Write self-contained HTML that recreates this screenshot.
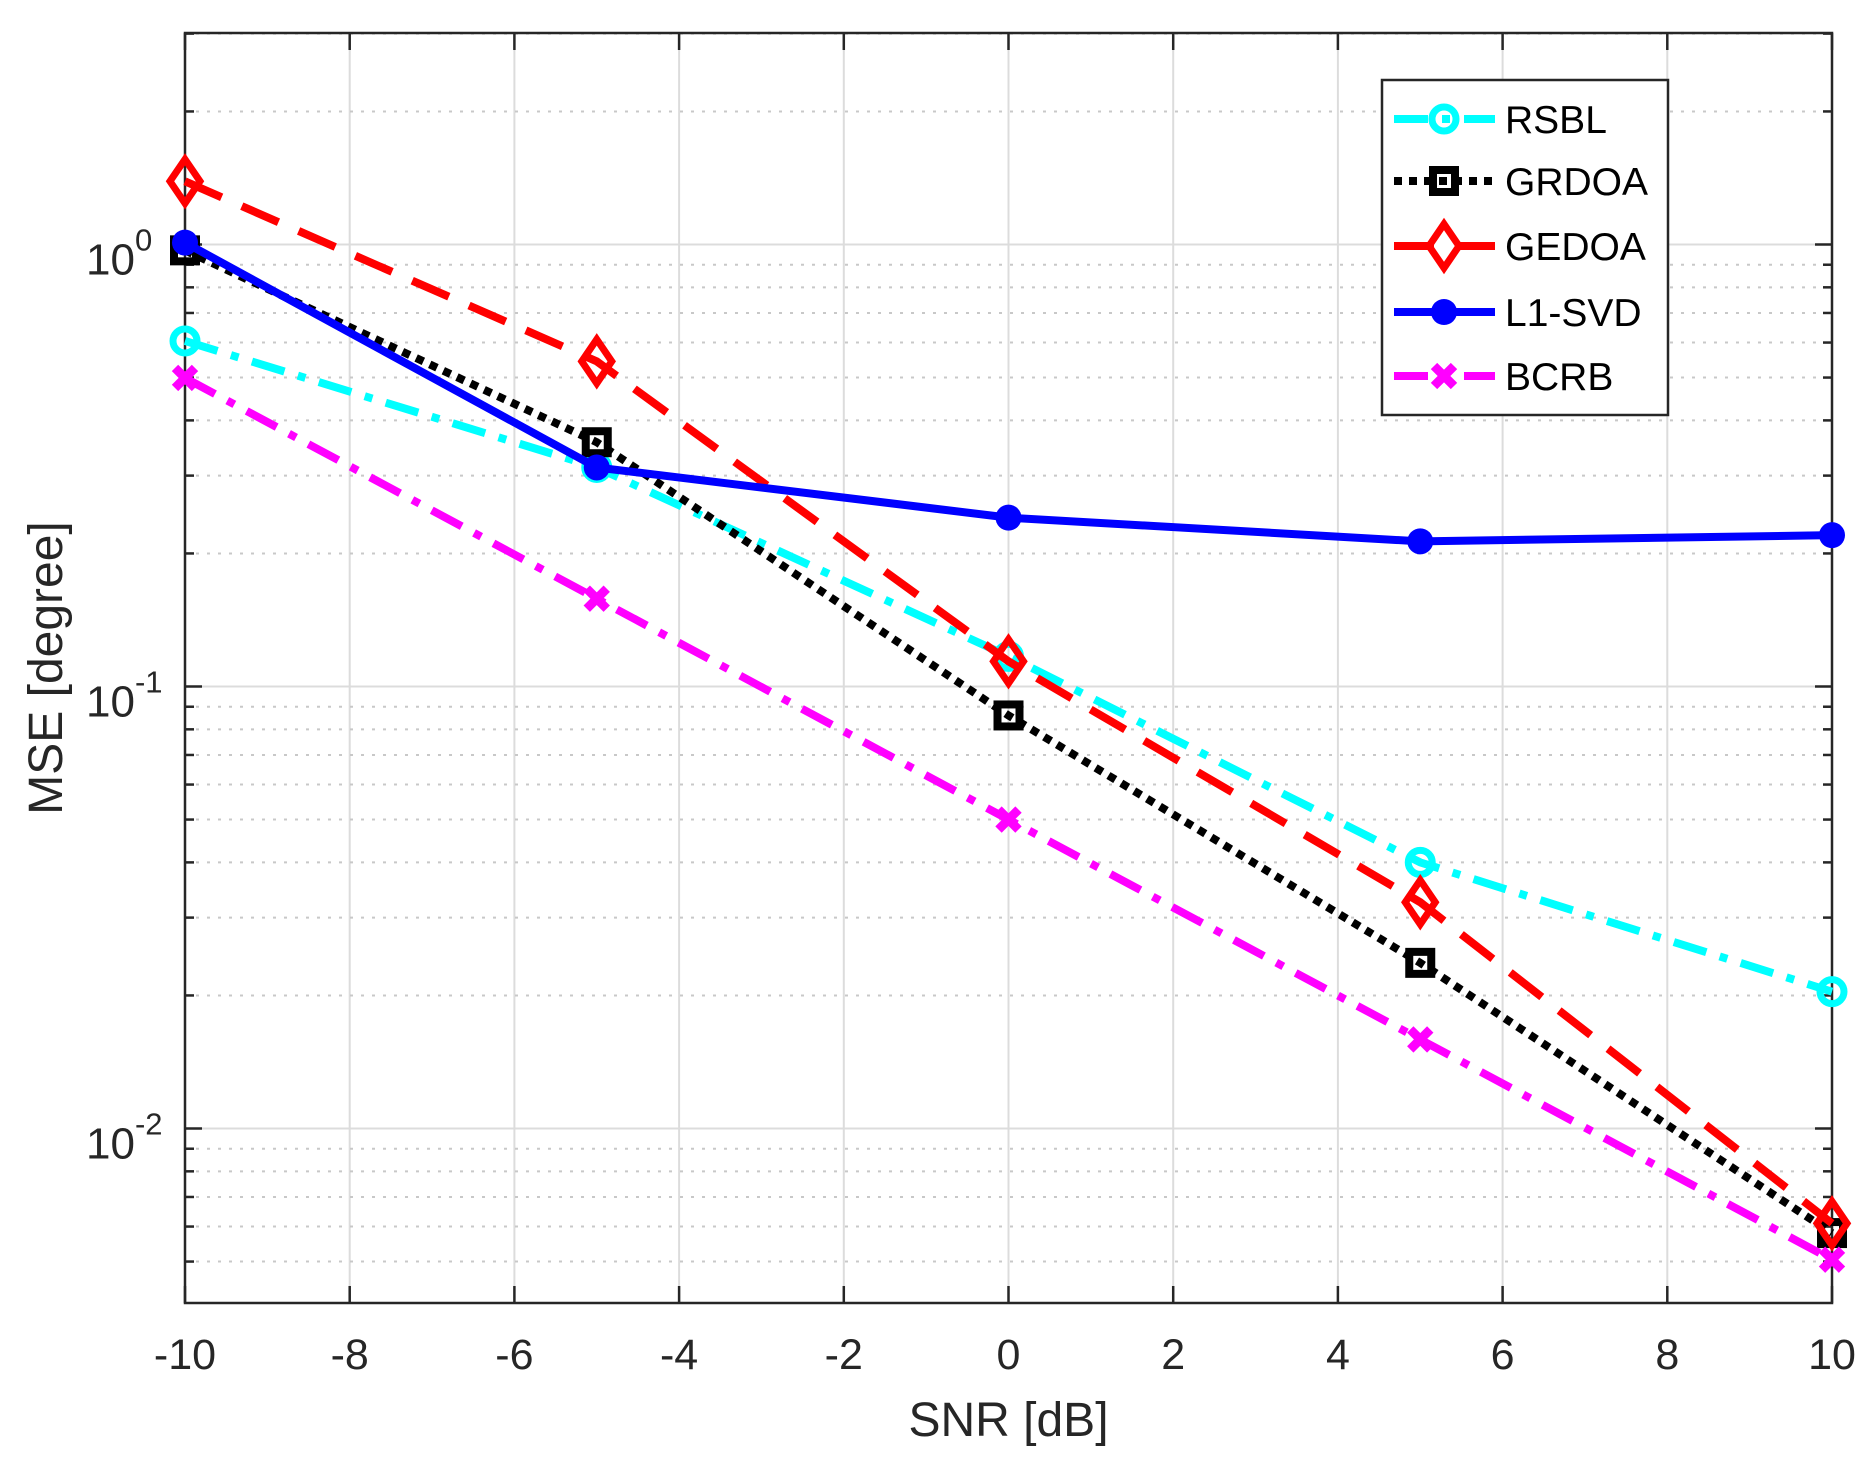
<!DOCTYPE html>
<html><head><meta charset="utf-8"><style>
html,body{margin:0;padding:0;background:#fff;}
svg{display:block;font-family:"Liberation Sans",sans-serif;}
</style></head><body>
<svg id="chart" width="1869" height="1467" viewBox="0 0 1869 1467" xmlns="http://www.w3.org/2000/svg">
<rect x="0" y="0" width="1869" height="1467" fill="#fff"/>
<g id="grid"></g>
<g id="axes"></g>
<g id="series"></g>
<g id="legend"></g>
</svg>
<script>
const snr = [-10, -5, 0, 5, 10];
const rsbl = [0.605, 0.313, 0.117, 0.040, 0.0204];
const grdoa = [0.97, 0.357, 0.086, 0.0237, 0.0058];
const gedoa = [1.39, 0.544, 0.114, 0.0325, 0.0061];
const l1svd = [1.01, 0.313, 0.241, 0.213, 0.220];
const bcrb = [0.499, 0.158, 0.050, 0.0159, 0.00505];
const xTicks = [-10, -8, -6, -4, -2, 0, 2, 4, 6, 8, 10];
const yDecades = [-2, -1, 0];
const seriesNames = ['RSBL', 'GRDOA', 'GEDOA', 'L1-SVD', 'BCRB'];

const NS = 'http://www.w3.org/2000/svg';
const L = 185, R = 1832, T = 33, B = 1303;
const xMin = -10, xMax = 10;
const y0 = 244.5, dec = 442;
function X(v) { return L + (v - xMin) / (xMax - xMin) * (R - L); }
function Y(v) { return y0 - Math.log10(v) * dec; }
function mk(tag, attrs, parent) {
  const e = document.createElementNS(NS, tag);
  for (const k in attrs) e.setAttribute(k, attrs[k]);
  parent.appendChild(e);
  return e;
}
const grid = document.getElementById('grid');
const axes = document.getElementById('axes');
const series = document.getElementById('series');
const legend = document.getElementById('legend');

xTicks.forEach(t => {
  const l = mk('line', {x1: X(t), x2: X(t), y1: T, y2: B, stroke: '#dcdcdc', 'stroke-width': 2}, grid);
  
  
});
const yMinV = Math.pow(10, (y0 - B) / dec), yMaxV = Math.pow(10, (y0 - T) / dec);
for (let d = -3; d <= 1; d++) {
  for (let m = 1; m <= 9; m++) {
    const v = m * Math.pow(10, d);
    if (v < yMinV || v > yMaxV) continue;
    const y = Y(v);
    const l = mk('line', {x1: L, x2: R, y1: y, y2: y, stroke: m === 1 ? '#dcdcdc' : '#c8c8c8', 'stroke-width': 2, 'stroke-dasharray': m === 1 ? '' : '3 8'}, grid);
    
    
    [[L, L + (m === 1 ? 17 : 9)], [R, R - (m === 1 ? 17 : 9)]].forEach(p => {
      const tk = mk('line', {x1: p[0], x2: p[1], y1: y, y2: y, stroke: '#262626', 'stroke-width': 2.5}, axes);
      
      
    });
  }
}
const fr = mk('rect', {x: L, y: T, width: R - L, height: B - T, fill: 'none', stroke: '#262626', 'stroke-width': 2.5}, axes);


xTicks.forEach(t => {
  [[B, B - 17], [T, T + 17]].forEach(p => {
    const tk = mk('line', {x1: X(t), x2: X(t), y1: p[0], y2: p[1], stroke: '#262626', 'stroke-width': 2.5}, axes);
    
    
  });
  const tx = mk('text', {x: X(t), y: 1369, 'text-anchor': 'middle', 'font-size': 43, fill: '#262626'}, axes);
  tx.textContent = String(t);
  
  
});
yDecades.forEach(d => {
  const y = Y(Math.pow(10, d));
  const tx = mk('text', {x: 86, y: y + 30, 'font-size': 44, fill: '#262626'}, axes);
  
  
  const a = mk('tspan', {}, tx); a.textContent = '10';
  const b = mk('tspan', {dy: -24, 'font-size': 31}, tx); b.textContent = String(d);
});
const xl = mk('text', {x: (L + R) / 2, y: 1436, 'text-anchor': 'middle', 'font-size': 48, fill: '#262626'}, axes);
xl.textContent = 'SNR [dB]';


const yl = mk('text', {x: 0, y: 0, 'text-anchor': 'middle', 'font-size': 48, fill: '#262626', transform: 'translate(62,' + ((T + B) / 2) + ') rotate(-90)'}, axes);
yl.textContent = 'MSE [degree]';



const styles = [
  {c: '#00ffff', dash: '34 14 8 14', m: 'circle'},
  {c: '#000000', dash: '8 7', m: 'square'},
  {c: '#ff0000', dash: '40 22', m: 'diamond'},
  {c: '#0000ff', dash: '', m: 'dot'},
  {c: '#ff00ff', dash: '34 14 8 14', m: 'x'}
];
const data = [rsbl, grdoa, gedoa, l1svd, bcrb];
function marker(kind, x, y, c, g) {
  let e;
  if (kind === 'circle') e = mk('circle', {cx: x, cy: y, r: 12, fill: 'none', stroke: c, 'stroke-width': 7}, g);
  else if (kind === 'square') e = mk('rect', {x: x - 11, y: y - 11, width: 22, height: 22, fill: 'none', stroke: c, 'stroke-width': 8}, g);
  else if (kind === 'diamond') e = mk('polygon', {points: `${x},${y - 22} ${x + 15},${y} ${x},${y + 22} ${x - 15},${y}`, fill: 'none', stroke: c, 'stroke-width': 7}, g);
  else if (kind === 'dot') e = mk('circle', {cx: x, cy: y, r: 13, fill: c}, g);
  else e = mk('path', {d: `M${x - 10},${y - 10}L${x + 10},${y + 10}M${x + 10},${y - 10}L${x - 10},${y + 10}`, stroke: c, 'stroke-width': 9}, g);
  
  
}
data.forEach((vals, i) => {
  const s = styles[i];
  const g = mk('g', {}, series);
  
  
  const pts = snr.map((x, j) => X(x) + ',' + Y(vals[j])).join(' ');
  const pl = mk('polyline', {points: pts, fill: 'none', stroke: s.c, 'stroke-width': 8, 'stroke-dasharray': s.dash}, g);
  
  
  snr.forEach((x, j) => marker(s.m, X(x), Y(vals[j]), s.c, g));
});
const lb = mk('rect', {x: 1382, y: 80, width: 286, height: 335, fill: '#fff', stroke: '#262626', 'stroke-width': 2.5}, legend);


const ly = [119, 181, 246, 312, 376];
seriesNames.forEach((n, i) => {
  const s = styles[i];
  const g = mk('g', {}, legend);
  
  
  const ln = mk('line', {x1: 1394, x2: 1495, y1: ly[i], y2: ly[i], stroke: s.c, 'stroke-width': 8, 'stroke-dasharray': s.dash}, g);
  
  
  marker(s.m, 1444, ly[i], s.c, g);
  const t = mk('text', {x: 1505, y: ly[i] + 14, 'font-size': 39, fill: '#000'}, g);
  t.textContent = n;
  
  
});
</script>
</body></html>
